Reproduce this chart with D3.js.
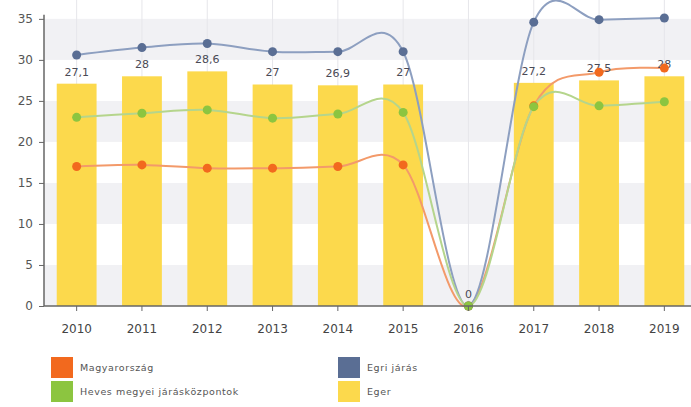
<!DOCTYPE html>
<html><head><meta charset="utf-8">
<script src="https://cdn.jsdelivr.net/npm/d3@7"></script>
<style>body{margin:0;background:#fff;font-family:"DejaVu Sans",sans-serif}</style>
</head><body><svg id="c" width="691" height="407"></svg>
<script>
const years = ["2010","2011","2012","2013","2014","2015","2016","2017","2018","2019"];
const eger = [27.1, 28, 28.6, 27, 26.9, 27, 0, 27.2, 27.5, 28];
const egerLabels = ["27,1","28","28,6","27","26,9","27","0","27,2","27,5","28"];
const magyarorszag = [17.0, 17.2, 16.8, 16.8, 17.0, 17.2, 0, 24.4, 28.5, 29.0];
const egriJaras = [30.6, 31.5, 32.0, 31.0, 31.0, 31.0, 0, 34.6, 34.9, 35.1];
const heves = [23.0, 23.5, 23.9, 22.9, 23.4, 23.6, 0, 24.3, 24.4, 24.9];
const yTicks = [0,5,10,15,20,25,30,35];
const legendItems = ["Magyarország","Egri járás","Heves megyei járásközpontok","Eger"];

const colors = {orange:"#f2691e", blue:"#5a6e94", green:"#8cc540", yellow:"#fcd94c"};
const svg = d3.select("#c");
const left = 44, right = 697, bottom = 306;
const y = d3.scaleLinear().domain([0, 37.3]).range([bottom, 0]);
const x = d3.scaleBand().domain(years).range([left, right]).paddingInner(0.39).paddingOuter(0.195);
const cx = d => x(d) + x.bandwidth()/2;

// horizontal bands
const bands = d3.range(0, 35, 5);
svg.append("g").selectAll("rect").data(bands).join("rect")
  .attr("x", left).attr("width", right-left)
  .attr("y", d => y(d+5)).attr("height", d => y(d) - y(d+5))
  .attr("fill", d => ((d/5) % 2 === 0) ? "#f1f1f4" : "#ffffff");

// vertical grid
svg.append("g").selectAll("line").data(years).join("line")
  .attr("x1", cx).attr("x2", cx).attr("y1", 0).attr("y2", bottom)
  .attr("stroke", "#e6e6ea").attr("stroke-width", 1);

// bars
svg.append("g").selectAll("rect").data(years).join("rect")
  .attr("x", d => x(d)).attr("width", x.bandwidth())
  .attr("y", (d,i) => y(eger[i])).attr("height", (d,i) => bottom - y(eger[i]))
  .attr("fill", colors.yellow);

// lines
const line = d3.line().x((d,i) => cx(years[i])).y(d => y(d)).curve(d3.curveCardinal.tension(0));
const series = [
  {v: magyarorszag, c: colors.orange, lc:"#f39a6a"},
  {v: egriJaras, c: colors.blue, lc:"#8d9fc0"},
  {v: heves, c: colors.green, lc:"#b5d58c"}
];
series.forEach(s => {
  svg.append("path").datum(s.v).attr("d", line).attr("fill","none")
    .attr("stroke", s.lc).attr("stroke-width", 2);
});

// bar labels
svg.append("g").selectAll("text").data(years).join("text")
  .attr("x", cx).attr("y", (d,i) => y(eger[i]) - 8)
  .attr("text-anchor","middle").attr("font-size", 11).attr("fill","#4a4a55")
  .text((d,i) => egerLabels[i]);

series.forEach(s => {
  svg.append("g").selectAll("circle").data(s.v).join("circle")
    .attr("cx", (d,i) => cx(years[i])).attr("cy", d => y(d)).attr("r", 4.5)
    .attr("fill", s.c);
});

// axes
const yAxis = svg.append("g").attr("transform", `translate(${left},0)`)
  .call(d3.axisLeft(y).tickValues(yTicks).tickSize(5).tickPadding(6));
yAxis.select(".domain").attr("d", `M0,${y(35)-4}V${bottom}`).attr("stroke","#666").attr("stroke-width",1.5);
yAxis.selectAll(".tick line").attr("stroke","#666");
yAxis.selectAll("text").attr("font-size",12).attr("fill","#555").attr("font-family","DejaVu Sans");

const xAxis = svg.append("g").attr("transform", `translate(0,${bottom})`)
  .call(d3.axisBottom(x).tickSize(5).tickPadding(13));
xAxis.select(".domain").attr("d", `M${left},0H691`).attr("stroke","#666").attr("stroke-width",1.5);
xAxis.selectAll(".tick line").attr("stroke","#666");
xAxis.selectAll("text").attr("font-size",12).attr("fill","#444").attr("font-family","DejaVu Sans");

// legend
const legendColors = [colors.orange, colors.blue, colors.green, colors.yellow];
const lg = svg.append("g").selectAll("g").data(legendItems).join("g")
  .attr("transform", (d,i) => `translate(${i%2===0?51:338},${i<2?357:381})`);
lg.append("rect").attr("width",22).attr("height",21).attr("fill",(d,i)=>legendColors[i]);
lg.append("text").attr("x",29).attr("y",14).attr("font-size",9.5).attr("letter-spacing",0.6)
  .attr("fill","#555").text(d=>d);
</script></body></html>
